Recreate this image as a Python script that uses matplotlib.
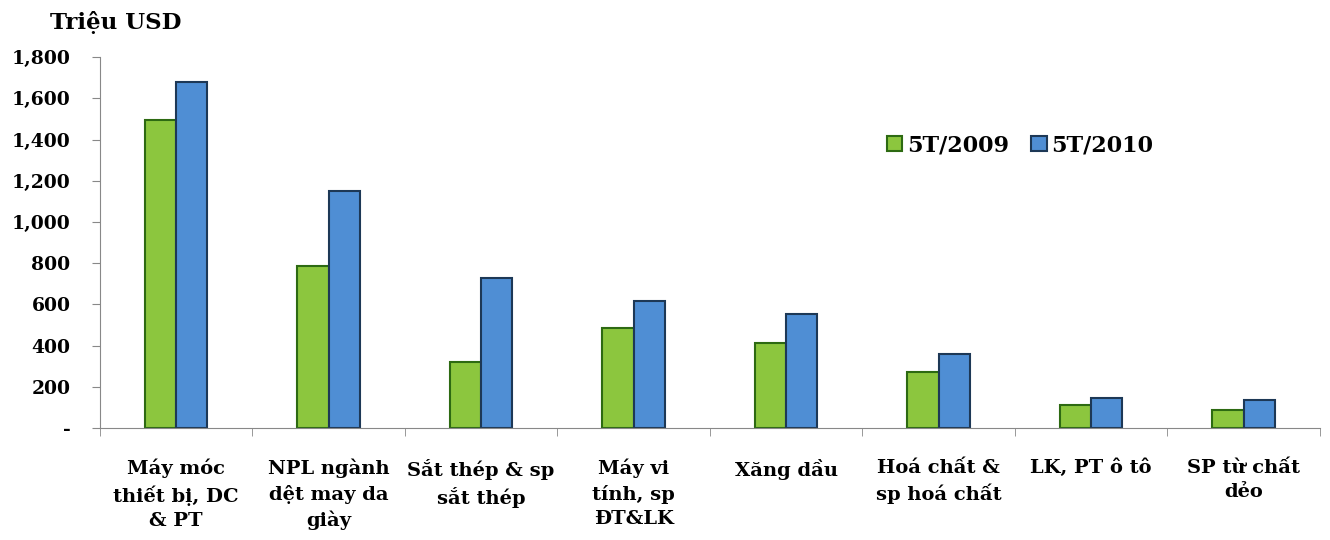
import numpy as np
import matplotlib.pyplot as plt

categories = ["Máy móc\nthiết bị, DC\n& PT", "NPL ngành\ndệt may da\ngiày",
              "Sắt thép & sp\nsắt thép", "Máy vi\ntính, sp\nĐT&LK", "Xăng dầu",
              "Hoá chất &\nsp hoá chất", "LK, PT ô tô", "SP từ chất\ndẻo"]
val_2009 = [1495, 785, 320, 485, 415, 270, 113, 87]
val_2010 = [1680, 1150, 728, 618, 553, 358, 147, 135]
yticks = [0, 200, 400, 600, 800, 1000, 1200, 1400, 1600, 1800]

plt.rcParams['font.family'] = ['DejaVu Serif']
plt.rcParams['font.weight'] = 'bold'

fig = plt.figure(figsize=(13.3, 5.4), dpi=100)
ax = fig.add_axes([0.075, 0.2074, 0.9175, 0.6867])

x = np.arange(len(categories))
w = 0.205
ax.bar(x - w / 2, val_2009, w, color='#8cc63e', edgecolor='#2d6a12', linewidth=1.5, label='5T/2009')
ax.bar(x + w / 2, val_2010, w, color='#4f8ed4', edgecolor='#1d3856', linewidth=1.5, label='5T/2010')

ax.set_xlim(-0.5, len(categories) - 0.5)
ax.set_ylim(0, 1800)
ax.set_yticks(yticks)
ax.set_yticklabels(['-' if v == 0 else f'{v:,}' for v in yticks], fontsize=13.5, fontweight='bold')

# nhãn ở giữa nhóm, vạch chia ở ranh giới nhóm
ax.set_xticks(x)
ax.set_xticklabels(categories, fontsize=14, fontweight='bold', linespacing=1.45, va='top')
ax.tick_params(axis='x', length=0, pad=22)
ax.set_xticks(np.arange(len(categories) + 1) - 0.5, minor=True)
ax.tick_params(axis='x', which='minor', length=6, color='#888888', direction='out')
ax.tick_params(axis='y', length=6, color='#888888', pad=15)

for side in ['top', 'right']:
    ax.spines[side].set_visible(False)
for side in ['left', 'bottom']:
    ax.spines[side].set_color('#888888')

ax.legend(loc='center', bbox_to_anchor=(0.754, 0.763), frameon=False, ncol=2,
          handlelength=0.7, handleheight=0.7, handletextpad=0.2,
          columnspacing=1.0, prop={'weight': 'bold', 'size': 16})

fig.text(50 / 1330, 1 - 22 / 540, 'Triệu USD', fontsize=16.5, fontweight='bold', va='center', ha='left')

fig.savefig('out.png', dpi=100)
